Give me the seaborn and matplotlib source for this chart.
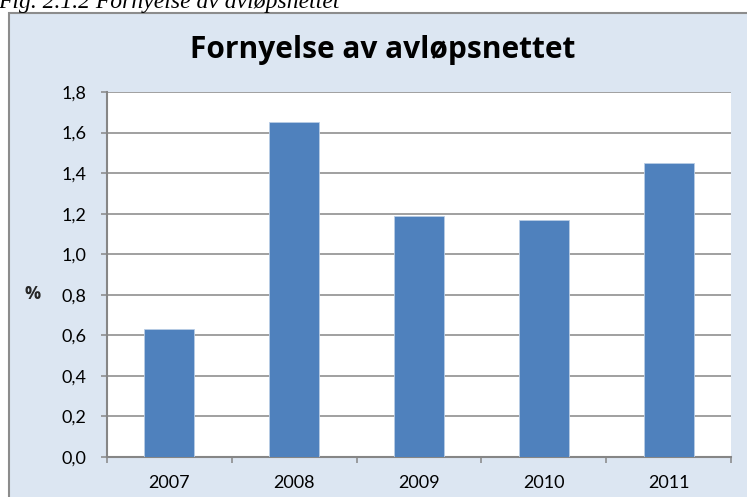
import matplotlib
matplotlib.use("Agg")
import matplotlib.pyplot as plt
from matplotlib.patches import Rectangle
from matplotlib.ticker import FuncFormatter, FixedLocator
import seaborn as sns
import pandas as pd

years = ["2007", "2008", "2009", "2010", "2011"]
values = [0.63, 1.65, 1.19, 1.17, 1.45]
yticks = [0.0, 0.2, 0.4, 0.6, 0.8, 1.0, 1.2, 1.4, 1.6, 1.8]
title = "Fornyelse av avløpsnettet"
caption = "Fig. 2.1.2 Fornyelse av avløpsnettet"
ylabel = "%"

sns.set_theme(style="white")
plt.rcParams["font.family"] = ["Lato", "DejaVu Sans"]

W, H = 747, 497
fig = plt.figure(figsize=(W / 100, H / 100), dpi=100)
fig.patch.set_facecolor("white")

# chart area background (cut off at right and bottom)
bg = Rectangle((9 / W, -0.1), 1.2, (1 - 13 / H) + 0.1, transform=fig.transFigure,
               facecolor="#DCE6F2", edgecolor="#8C8C8C", lw=1.5, zorder=0)
fig.add_artist(bg)

# caption partially cut off at top
fig.text(-2 / W, 1 - 8 / H, caption, family=["Liberation Serif", "DejaVu Serif"],
         style="italic", fontsize=17, ha="left", va="baseline", color="black")

ax = fig.add_axes([107 / W, 1 - 457 / H, (731 - 107) / W, (457 - 92) / H])
ax.set_facecolor("white")

df = pd.DataFrame({"year": years, "value": values})
sns.barplot(data=df, x="year", y="value", color="#4F81BD", width=0.4, ax=ax,
            saturation=1, edgecolor="#B9CDE5", linewidth=0.6, zorder=3)

ax.set_ylim(0, 1.8)
ax.set_xlim(-0.5, 4.5)
ax.set_yticks(yticks)
ax.yaxis.set_major_formatter(FuncFormatter(lambda v, p: f"{v:.1f}".replace(".", ",")))
ax.yaxis.grid(True, color="#868686", lw=1.1, zorder=0)
ax.set_axisbelow(True)

for s in ["top", "right"]:
    ax.spines[s].set_visible(False)
for s in ["left", "bottom"]:
    ax.spines[s].set_color("#868686")
    ax.spines[s].set_linewidth(1.5)

ax.tick_params(axis="y", which="major", left=True, length=4.5, width=1.1,
               color="#868686", pad=10, labelsize=13, labelcolor="black")
ax.tick_params(axis="x", which="major", bottom=False, length=0, pad=13,
               labelsize=13, labelcolor="black")
ax.xaxis.set_minor_locator(FixedLocator([-0.5, 0.5, 1.5, 2.5, 3.5, 4.5]))
ax.tick_params(axis="x", which="minor", bottom=True, length=4, width=1.1, color="#868686")

ax.set_xlabel("")
ax.set_ylabel(ylabel, rotation=0, fontsize=13, fontweight="bold", va="center", ha="center",
              family=["Open Sans", "DejaVu Sans"])
ax.yaxis.set_label_coords((33 - 107) / (731 - 107), (457 - 294) / (457 - 92))

fig.text(382.5 / W, 1 - 58 / H, title, fontsize=21.5, fontweight="bold",
         family=["Open Sans", "DejaVu Sans"],
         ha="center", va="baseline", color="black")

fig.savefig("out.png", dpi=100)
